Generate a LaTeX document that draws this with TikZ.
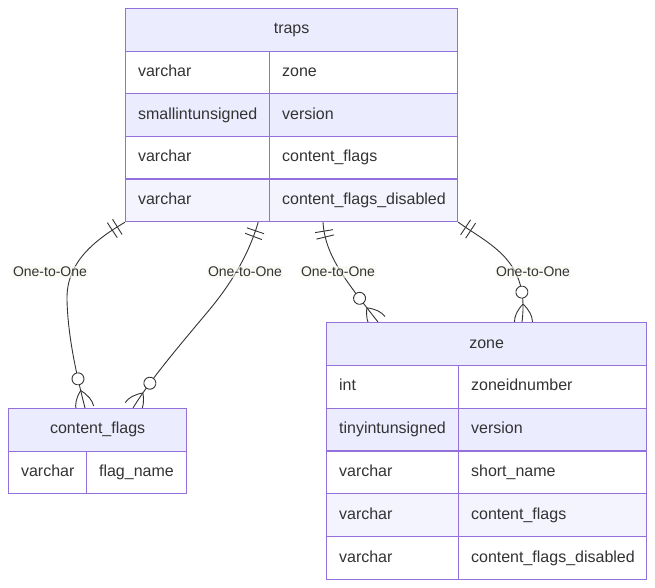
\documentclass[tikz,border=0pt]{standalone}
\usepackage{fontspec}
\setmainfont{Liberation Sans}
\usetikzlibrary{decorations.markings,calc}
\definecolor{bord}{HTML}{9370DB}
\definecolor{hdr}{HTML}{ECECFF}
\definecolor{rowa}{HTML}{ECECFF}
\definecolor{rowb}{HTML}{F4F4FF}
\definecolor{txt}{HTML}{333333}
\definecolor{lbl}{HTML}{F8F8F0}
\pgfdeclarelayer{bg}
\pgfsetlayers{bg,main}
\begin{document}
\begin{tikzpicture}[x=1pt,y=-1pt,
  cell/.style={draw=bord, line width=1.2pt, anchor=north west, inner xsep=12.5pt, inner ysep=0pt,
    align=left, text=txt, font=\fontsize{16}{19}\selectfont, text height=11.5pt, text depth=3.5pt,
    minimum height=#1},
  cell/.default=42.6pt,
  hcell/.style={draw=bord, line width=1.2pt, anchor=north west, inner sep=0pt, fill=hdr,
    align=center, text=txt, font=\fontsize{16}{19}\selectfont, text height=11.5pt, text depth=3.5pt},
  elabel/.style={fill=lbl, fill opacity=0.6, text opacity=1, text=txt, inner sep=1.5pt,
    font=\fontsize{14}{16}\selectfont},
  mk/.style={draw=txt, line width=0.9pt},
  rel/.style={draw=txt, line width=0.9pt, postaction={decorate}, decoration={markings,
    mark=at position 9pt with {\draw[mk] (0pt,-9pt)--(0pt,9pt);},
    mark=at position 15pt with {\draw[mk] (0pt,-9pt)--(0pt,9pt);},
    mark=at position -30pt with {\draw[mk, fill=white] (0pt,0pt) circle[radius=6pt];},
    mark=at position -18pt with {\draw[mk] (0pt,0pt) .. controls (6pt,-6pt) and (12pt,-9pt) .. (18pt,-9pt)
       (0pt,0pt) .. controls (6pt,6pt) and (12pt,9pt) .. (18pt,9pt);}
  }}
]
\useasboundingbox (0,0) rectangle (655,587);

% traps
\node[hcell, minimum width=332pt, minimum height=42.6pt] (th) at (125,8) {traps};
\node[cell, text width=119pt, fill=white] (t1a) at (125,50.6) {varchar};
\node[cell, text width=163pt, fill=white] (t1b) at (269,50.6) {zone};
\node[cell, text width=119pt, fill=rowa] (t2a) at (125,93.2) {smallintunsigned};
\node[cell, text width=163pt, fill=rowa] (t2b) at (269,93.2) {version};
\node[cell, text width=119pt, fill=white] (t3a) at (125,135.8) {varchar};
\node[cell, text width=163pt, fill=white] (t3b) at (269,135.8) {content\_flags};
\node[cell, text width=119pt, fill=rowb] (t4a) at (125,178.4) {varchar};
\node[cell, text width=163pt, fill=rowb] (t4b) at (269,178.4) {content\_flags\_disabled};

% content_flags
\node[hcell, minimum width=178pt, minimum height=42.5pt] (cfh) at (8,408) {content\_flags};
\node[cell=42.5pt, text width=53pt, fill=white] (c1a) at (8,450.5) {varchar};
\node[cell=42.5pt, text width=75pt, fill=white] (c1b) at (86,450.5) {flag\_name};

% zone
\node[hcell, minimum width=320pt, minimum height=42.8pt] (zh) at (326,322) {zone};
\node[cell=42.8pt, text width=107pt, fill=white] (z1a) at (326,364.8) {int};
\node[cell=42.8pt, text width=163pt, fill=white] (z1b) at (458,364.8) {zoneidnumber};
\node[cell=42.8pt, text width=107pt, fill=rowa] (z2a) at (326,407.6) {tinyintunsigned};
\node[cell=42.8pt, text width=163pt, fill=rowa] (z2b) at (458,407.6) {version};
\node[cell=42.8pt, text width=107pt, fill=white] (z3a) at (326,450.4) {varchar};
\node[cell=42.8pt, text width=163pt, fill=white] (z3b) at (458,450.4) {short\_name};
\node[cell=42.8pt, text width=107pt, fill=rowb] (z4a) at (326,493.2) {varchar};
\node[cell=42.8pt, text width=163pt, fill=rowb] (z4b) at (458,493.2) {content\_flags};
\node[cell=42.8pt, text width=107pt, fill=white] (z5a) at (326,536.0) {varchar};
\node[cell=42.8pt, text width=163pt, fill=white] (z5b) at (458,536.0) {content\_flags\_disabled};

\begin{pgfonlayer}{bg}
\draw[rel] (t4a.south west) .. controls (95,240) and (66,262) .. (67,300)
   .. controls (68,340) and (78,380) .. ([xshift=77pt]cfh.north west);
\draw[rel] ([xshift=-12pt]t4a.south east) .. controls (250,250) and (235,280) .. (205,315)
   .. controls (180,345) and (150,380) .. ([xshift=125pt]cfh.north west);
\draw[rel] ([xshift=54pt]t4b.south west) .. controls (325,255) and (345,280) .. ([xshift=52pt]zh.north west);
\draw[rel] (t4b.south east) .. controls (490,245) and (530,260) .. ([xshift=196pt]zh.north west);
\end{pgfonlayer}

\node[elabel] (l1) at (50,272) {One-to-One};
\node[elabel] (l2) at (245,272) {One-to-One};
\node[elabel] (l3) at (338,272) {One-to-One};
\node[elabel] (l4) at (533,272) {One-to-One};
\end{tikzpicture}
\end{document}
